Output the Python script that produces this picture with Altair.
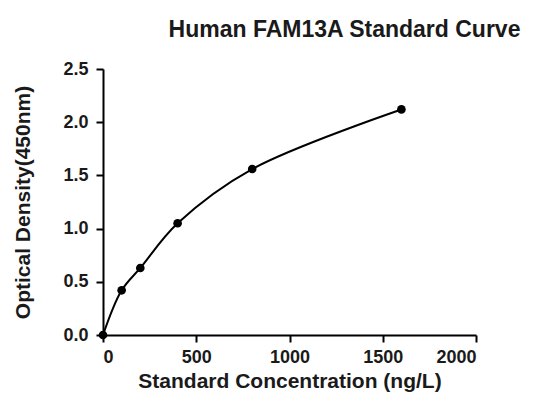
import altair as alt
import pandas as pd

conc = [0, 100, 200, 400, 800, 1600]
od = [0.0, 0.42, 0.63, 1.05, 1.56, 2.12]

df = pd.DataFrame({"conc": conc, "od": od})

FONT = "Liberation Sans"

x = alt.X("conc:Q", scale=alt.Scale(domain=[0, 2000], nice=False),
          axis=alt.Axis(title="Standard Concentration (ng/L)", values=[0, 500, 1000, 1500, 2000],
                        grid=False, format="d"))
y = alt.Y("od:Q", scale=alt.Scale(domain=[0, 2.5], nice=False),
          axis=alt.Axis(title="Optical Density(450nm)", values=[0, 0.5, 1.0, 1.5, 2.0, 2.5],
                        grid=False, format=".1f"))

line = alt.Chart(df).mark_line(color="black", strokeWidth=2, interpolate="catmull-rom").encode(x=x, y=y)
pts = alt.Chart(df).mark_point(filled=True, color="black", size=75, opacity=1).encode(x=x, y=y)

chart = (line + pts).properties(
    width=373, height=266,
    autosize=alt.AutoSizeParams(type="none"),
    padding={"left": 95, "top": 61, "right": 50, "bottom": 59},
    title=alt.TitleParams("Human FAM13A Standard Curve", anchor="middle", dx=55, offset=18,
                          font=FONT, fontSize=23, fontWeight="bold", color="#1a1a1a"),
).configure_view(stroke=None).configure_axis(
    domainColor="black", domainWidth=2, tickColor="black", tickWidth=2, tickSize=7,
    labelFont=FONT, labelFontSize=18, labelFontWeight="bold", labelColor="#1a1a1a",
    titleFont=FONT, titleFontSize=21, titleFontWeight="bold", titleColor="#1a1a1a",
).configure_axisX(labelPadding=6, titlePadding=4).configure_axisY(
    labelPadding=8, titlePadding=29)

chart.save("out.html", embed_options={"renderer": "svg", "actions": False})
